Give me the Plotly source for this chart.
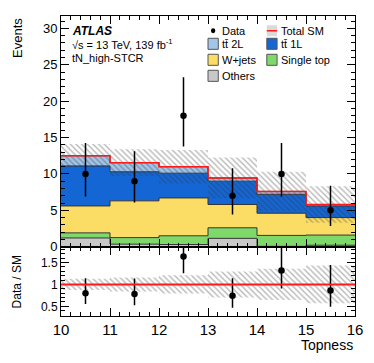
import plotly.graph_objects as go

# binning in Topness
edges = [10, 11, 12, 13, 14, 15, 16]
centers = [10.5, 11.5, 12.5, 13.5, 14.5, 15.5]

# background stack (events per bin), bottom to top
others = [1.2, 0.35, 0.3, 1.15, 0.05, 0.2]
single_top = [0.7, 0.9, 1.2, 1.45, 1.5, 1.4]
wjets = [3.7, 5.05, 5.2, 3.2, 3.05, 2.4]
ttbar_1l = [5.5, 4.0, 3.4, 3.2, 2.6, 1.6]
ttbar_2l = [1.4, 1.25, 0.9, 0.45, 0.4, 0.2]
sm_unc = [1.6, 1.85, 2.3, 2.8, 2.7, 2.5]

# observed data with asymmetric poisson errors
data = [10, 9, 18, 7, 10, 5]
data_err_up = [4.26, 4.11, 5.30, 3.77, 4.26, 3.38]
data_err_down = [3.11, 2.94, 4.22, 2.58, 3.11, 2.16]

stack = [
  ("Others", others, "#c8c8c8"),
  ("Single top", single_top, "#7fd96a"),
  ("W+jets", wjets, "#fbdc64"),
  ("tt\u0304 1L", ttbar_1l, "#1466d4"),
  ("tt\u0304 2L", ttbar_2l, "#a3c5e8"),
]

FONT = "Liberation Sans, Arial, sans-serif"
hatch = dict(shape="\\", fgcolor="rgba(50,50,50,0.7)", bgcolor="rgba(0,0,0,0)", size=4, solidity=0.35)


def step(vals):
  return list(vals) + [vals[-1]]


fig = go.Figure()

# stacked histograms
cum = [0.0] * len(centers)
for i, (name, vals, col) in enumerate(stack):
  cum = [c + v for c, v in zip(cum, vals)]
  fig.add_trace(go.Scatter(
    x=edges, y=step(cum), mode="lines", line=dict(shape="hv", color="#333333", width=1),
    fill="tozeroy" if i == 0 else "tonexty", fillcolor=col, name=name,
    xaxis="x", yaxis="y", showlegend=False, hoverinfo="skip"
  ))
total = cum

# total SM uncertainty band
lo = [t - u for t, u in zip(total, sm_unc)]
hi = [t + u for t, u in zip(total, sm_unc)]
fig.add_trace(go.Scatter(x=edges, y=step(lo), mode="lines", line=dict(shape="hv", width=0),
                         xaxis="x", yaxis="y", showlegend=False, hoverinfo="skip"))
fig.add_trace(go.Scatter(x=edges, y=step(hi), mode="lines", line=dict(shape="hv", width=0),
                         fill="tonexty", fillcolor="rgba(0,0,0,0)", fillpattern=hatch,
                         xaxis="x", yaxis="y", showlegend=False, hoverinfo="skip"))
fig.add_trace(go.Scatter(x=edges, y=step(total), mode="lines", line=dict(shape="hv", color="#ff1a1a", width=1.5),
                         xaxis="x", yaxis="y", showlegend=False, hoverinfo="skip"))

# data
fig.add_trace(go.Scatter(
  x=centers, y=data, mode="markers", marker=dict(color="black", size=6.5),
  error_y=dict(type="data", symmetric=False, array=data_err_up, arrayminus=data_err_down,
               width=0, thickness=1.5, color="black"),
  xaxis="x", yaxis="y", showlegend=False
))

# ratio panel
r_lo = [1 - u / t for t, u in zip(total, sm_unc)]
r_hi = [1 + u / t for t, u in zip(total, sm_unc)]
fig.add_trace(go.Scatter(x=edges, y=step(r_lo), mode="lines", line=dict(shape="hv", width=0),
                         xaxis="x2", yaxis="y2", showlegend=False, hoverinfo="skip"))
fig.add_trace(go.Scatter(x=edges, y=step(r_hi), mode="lines", line=dict(shape="hv", width=0),
                         fill="tonexty", fillcolor="rgba(0,0,0,0)", fillpattern=hatch,
                         xaxis="x2", yaxis="y2", showlegend=False, hoverinfo="skip"))
ratio = [d / t for d, t in zip(data, total)]
fig.add_trace(go.Scatter(
  x=centers, y=ratio, mode="markers", marker=dict(color="black", size=6.5),
  error_y=dict(type="data", symmetric=False,
               array=[e / t for e, t in zip(data_err_up, total)],
               arrayminus=[e / t for e, t in zip(data_err_down, total)],
               width=0, thickness=1.5, color="black"),
  xaxis="x2", yaxis="y2", showlegend=False
))

shapes = [dict(type="line", xref="x2", yref="y2", x0=10, x1=16, y0=1, y1=1,
               line=dict(color="#ff1a1a", width=2), layer="above")]
annotations = []

# legend drawn by hand (two columns)
col1, col2 = 13.0, 14.2
rows = [29.67, 27.88, 25.68, 23.48]
hh = 0.76
legend_items = [
  (col1, rows[1], "tt\u0304 2L", "#a3c5e8"),
  (col2, rows[1], "tt\u0304 1L", "#1466d4"),
  (col1, rows[2], "W+jets", "#fbdc64"),
  (col2, rows[2], "Single top", "#7fd96a"),
  (col1, rows[3], "Others", "#c8c8c8"),
]
for x0, yc, label, col in legend_items:
  shapes.append(dict(type="rect", xref="x", yref="y", x0=x0, x1=x0 + 0.21, y0=yc - hh, y1=yc + hh,
                     fillcolor=col, line=dict(color="#555555", width=1)))
  annotations.append(dict(x=x0 + 0.24, y=yc, xref="x", yref="y", text=label, showarrow=False,
                          xanchor="left", yanchor="middle", font=dict(size=11, color="black")))
shapes.append(dict(type="circle", xref="x", yref="y", x0=col1 + 0.06, x1=col1 + 0.15,
                   y0=rows[0] - 0.33, y1=rows[0] + 0.33, fillcolor="black", line=dict(width=0)))
annotations.append(dict(x=col1 + 0.24, y=rows[0], xref="x", yref="y", text="Data", showarrow=False,
                        xanchor="left", yanchor="middle", font=dict(size=11, color="black")))
shapes.append(dict(type="rect", xref="x", yref="y", x0=col2, x1=col2 + 0.21, y0=rows[0] - hh, y1=rows[0] + hh,
                   fillcolor="rgba(150,150,150,0.35)", line=dict(width=0)))
shapes.append(dict(type="line", xref="x", yref="y", x0=col2, x1=col2 + 0.21, y0=rows[0], y1=rows[0],
                   line=dict(color="#ff1a1a", width=1.5)))
annotations.append(dict(x=col2 + 0.24, y=rows[0], xref="x", yref="y", text="Total SM", showarrow=False,
                        xanchor="left", yanchor="middle", font=dict(size=11, color="black")))

# ATLAS label
annotations += [
  dict(x=0.03, y=0.95, xref="paper", yref="paper", text="<b><i>ATLAS</i></b>", showarrow=False,
       xanchor="left", yanchor="middle", font=dict(size=12, color="black")),
  dict(x=0.03, y=0.905, xref="paper", yref="paper", text="\u221as = 13 TeV, 139 fb<sup>-1</sup>", showarrow=False,
       xanchor="left", yanchor="middle", font=dict(size=11, color="black")),
  dict(x=0.03, y=0.86, xref="paper", yref="paper", text="tN_high-STCR", showarrow=False,
       xanchor="left", yanchor="middle", font=dict(size=11, color="black")),
  dict(x=-0.15, y=1.0, xref="paper", yref="paper", text="Events", showarrow=False, textangle=-90,
       xanchor="center", yanchor="top", font=dict(size=13, color="black")),
  dict(x=-0.15, y=0.115, xref="paper", yref="paper", text="Data / SM", showarrow=False, textangle=-90,
       xanchor="center", yanchor="middle", font=dict(size=12, color="black")),
  dict(x=1.0, y=-0.13, xref="paper", yref="paper", text="Topness", showarrow=False,
       xanchor="right", yanchor="bottom", font=dict(size=14, color="black")),
]

axis_common = dict(showline=True, linecolor="black", linewidth=1, mirror="ticks", ticks="inside",
                   ticklen=8, tickcolor="black", showgrid=False, zeroline=False, automargin=False)

# the page body adds an 8px margin, so the figure is sized to fit inside the window
fig.update_layout(
  width=358, height=347,
  margin=dict(l=53, r=11, t=8, b=39),
  plot_bgcolor="white", paper_bgcolor="white",
  font=dict(family=FONT, color="black"),
  showlegend=False,
  xaxis=dict(axis_common, range=[10, 16], dtick=1, anchor="y", matches="x2", showticklabels=False,
             minor=dict(dtick=0.2, ticks="inside", ticklen=4, tickcolor="black")),
  yaxis=dict(axis_common, range=[0, 31.7], dtick=5, domain=[0.231, 1], anchor="x",
             tickfont=dict(size=13), minor=dict(dtick=1, ticks="inside", ticklen=4, tickcolor="black")),
  xaxis2=dict(axis_common, range=[10, 16], dtick=1, anchor="y2", tickfont=dict(size=15),
              minor=dict(dtick=0.2, ticks="inside", ticklen=4, tickcolor="black")),
  yaxis2=dict(axis_common, range=[0.28, 1.86], tickvals=[0.5, 1, 1.5], ticktext=["0.5", "1", "1.5"],
              domain=[0, 0.231], anchor="x2", tickfont=dict(size=12),
              minor=dict(dtick=0.1, ticks="inside", ticklen=4, tickcolor="black")),
  shapes=shapes,
  annotations=annotations,
)

fig.write_html("out.html")
